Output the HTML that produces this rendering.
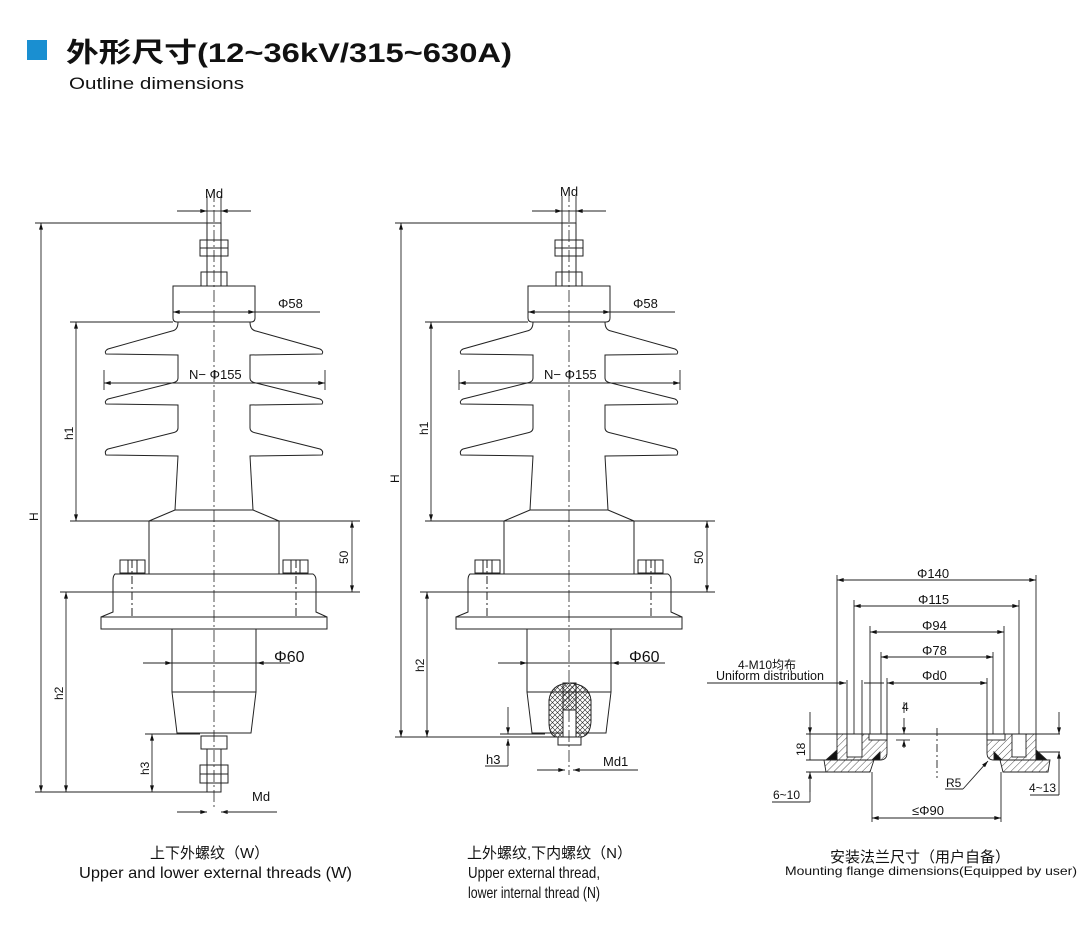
<!DOCTYPE html>
<html><head><meta charset="utf-8"><style>
body{margin:0;background:#fff;}
svg{display:block;font-family:"Liberation Sans","Noto Sans CJK SC",sans-serif;}
</style></head><body>
<svg width="1084" height="932" viewBox="0 0 1084 932" xmlns="http://www.w3.org/2000/svg">
<defs>
<marker id="a" viewBox="0 0 10 6" refX="10" refY="3" markerWidth="10" markerHeight="4" orient="auto-start-reverse" markerUnits="userSpaceOnUse"><path d="M0,0L10,3L0,6z" fill="#111"/></marker>
<pattern id="h" width="5" height="5" patternUnits="userSpaceOnUse" patternTransform="rotate(45)"><line x1="0" y1="0" x2="0" y2="5" stroke="#222" stroke-width="0.8"/></pattern>
<pattern id="x" width="5" height="5" patternUnits="userSpaceOnUse"><path d="M0,0L5,5M5,0L0,5" stroke="#222" stroke-width="0.6"/></pattern>
<g id="top" fill="none" stroke="#222" stroke-width="1">
<rect x="207" y="223" width="14" height="63"/>
<rect x="200" y="240" width="28" height="8"/><rect x="200" y="248" width="28" height="8"/>
<rect x="201" y="272" width="26" height="14"/>
<path d="M173,286H255V318Q255,322 251,322H177Q173,322 173,318Z"/>
<g id="side">
<path d="M178,322Q178,330 172,331L108,349Q104,351 106,354L178,355L178,378Q178,382 172,383L108,399Q104,401 106,404L178,405L178,428Q178,432 172,433L108,449Q104,451 106,455L178,456L175,510L149,521"/>
</g>
<use href="#side" transform="translate(428,0) scale(-1,1)"/>
<rect x="149" y="521" width="130" height="53"/>
<line x1="175" y1="510" x2="253" y2="510"/>
<rect x="120" y="560" width="25" height="13"/><line x1="128" y1="560" x2="128" y2="573"/><line x1="137" y1="560" x2="137" y2="573"/>
<rect x="283" y="560" width="25" height="13"/><line x1="291" y1="560" x2="291" y2="573"/><line x1="300" y1="560" x2="300" y2="573"/>
<path d="M115,574H313Q316,576 316,580V612L327,617H101L113,612V580Q113,576 115,574Z"/>
<line x1="113" y1="592" x2="316" y2="592"/>
<rect x="101" y="617" width="226" height="12"/>
<line x1="132" y1="560" x2="132" y2="617" stroke-dasharray="8,3,2,3"/>
<line x1="296" y1="560" x2="296" y2="617" stroke-dasharray="8,3,2,3"/>
<path d="M172,629V692L177,733H251L256,692V629"/>
<line x1="172" y1="692" x2="256" y2="692"/>
</g>
</defs>

<rect x="27" y="40" width="20" height="20" fill="#1a8fd1"/>
<text x="66" y="62" font-size="27" font-weight="bold" fill="#111" textLength="446" lengthAdjust="spacingAndGlyphs">外形尺寸(12~36kV/315~630A)</text>
<text x="69" y="89" font-size="17" fill="#111" textLength="175" lengthAdjust="spacingAndGlyphs">Outline dimensions</text>

<use href="#top"/>
<g fill="none" stroke="#222" stroke-width="1">
<rect x="201" y="736" width="26" height="13"/><rect x="207" y="749" width="14" height="43"/>
<rect x="200" y="765" width="28" height="9"/><rect x="200" y="774" width="28" height="9"/>
<line x1="214" y1="190" x2="214" y2="810" stroke-dasharray="12,3,2,3" stroke-width="0.8"/>
</g>
<g stroke="#222" stroke-width="0.9" fill="none">
<line x1="35" y1="223" x2="207" y2="223"/><line x1="41" y1="223" x2="41" y2="792" marker-start="url(#a)" marker-end="url(#a)"/>
<line x1="35" y1="792" x2="221" y2="792"/>
<line x1="70" y1="322" x2="173" y2="322"/><line x1="76" y1="322" x2="76" y2="521" marker-start="url(#a)" marker-end="url(#a)"/>
<line x1="70" y1="521" x2="360" y2="521"/><line x1="60" y1="592" x2="360" y2="592"/>
<line x1="352" y1="521" x2="352" y2="592" marker-start="url(#a)" marker-end="url(#a)"/>
<line x1="66" y1="592" x2="66" y2="792" marker-start="url(#a)" marker-end="url(#a)"/>
<line x1="145" y1="734" x2="200" y2="734"/><line x1="152" y1="734" x2="152" y2="792" marker-start="url(#a)" marker-end="url(#a)"/>
<line x1="177" y1="211" x2="207" y2="211" marker-end="url(#a)"/><line x1="251" y1="211" x2="221" y2="211" marker-end="url(#a)"/><line x1="207" y1="211" x2="221" y2="211"/>
<line x1="207" y1="196" x2="207" y2="223"/><line x1="221" y1="196" x2="221" y2="223"/>
<line x1="177" y1="812" x2="207" y2="812" marker-end="url(#a)"/><line x1="251" y1="812" x2="221" y2="812" marker-end="url(#a)"/><line x1="221" y1="812" x2="277" y2="812"/>
<line x1="173" y1="312" x2="255" y2="312" marker-start="url(#a)" marker-end="url(#a)"/><line x1="255" y1="312" x2="320" y2="312"/>
<line x1="104" y1="383" x2="325" y2="383" marker-start="url(#a)" marker-end="url(#a)"/>
<line x1="104" y1="370" x2="104" y2="390"/><line x1="325" y1="370" x2="325" y2="390"/>
<line x1="143" y1="663" x2="172" y2="663" marker-end="url(#a)"/><line x1="290" y1="663" x2="257" y2="663" marker-end="url(#a)"/><line x1="172" y1="663" x2="257" y2="663"/>
</g>
<g font-size="13" fill="#111">
<text x="205" y="198">Md</text>
<text x="278" y="308">Φ58</text>
<text x="189" y="379">N− Φ155</text>
<text x="274" y="662" font-size="16">Φ60</text>
<text x="252" y="801">Md</text>
<text transform="translate(38,521) rotate(-90)" font-size="12">H</text>
<text transform="translate(73,440) rotate(-90)" font-size="12">h1</text>
<text transform="translate(348,564) rotate(-90)" font-size="12">50</text>
<text transform="translate(63,700) rotate(-90)" font-size="12">h2</text>
<text transform="translate(149,775) rotate(-90)" font-size="12">h3</text>
</g>

<use href="#top" transform="translate(355,0)"/>
<g fill="none" stroke="#222" stroke-width="1">
<path d="M549,722V700Q551,684 569,683Q589,684 591,700V722Q590,735 582,737H556Q549,735 549,722Z" fill="url(#x)"/>
<rect x="563" y="683" width="13" height="37" fill="url(#h)"/>
<rect x="563" y="710" width="13" height="32" fill="#fff"/>
<rect x="558" y="737" width="23" height="8" fill="#fff"/>
<line x1="569" y1="190" x2="569" y2="775" stroke-dasharray="12,3,2,3" stroke-width="0.8"/>
</g>
<g stroke="#222" stroke-width="0.9" fill="none">
<line x1="395" y1="223" x2="562" y2="223"/><line x1="401" y1="223" x2="401" y2="737" marker-start="url(#a)" marker-end="url(#a)"/>
<line x1="395" y1="737" x2="560" y2="737"/>
<line x1="425" y1="322" x2="528" y2="322"/><line x1="431" y1="322" x2="431" y2="521" marker-start="url(#a)" marker-end="url(#a)"/>
<line x1="425" y1="521" x2="715" y2="521"/><line x1="420" y1="592" x2="715" y2="592"/>
<line x1="707" y1="521" x2="707" y2="592" marker-start="url(#a)" marker-end="url(#a)"/>
<line x1="427" y1="592" x2="427" y2="737" marker-start="url(#a)" marker-end="url(#a)"/>
<line x1="508" y1="707" x2="508" y2="734" marker-end="url(#a)"/><line x1="508" y1="766" x2="508" y2="739" marker-end="url(#a)"/>
<line x1="500" y1="734" x2="545" y2="734"/><line x1="485" y1="766" x2="508" y2="766"/>
<line x1="532" y1="211" x2="562" y2="211" marker-end="url(#a)"/><line x1="606" y1="211" x2="576" y2="211" marker-end="url(#a)"/><line x1="562" y1="211" x2="576" y2="211"/>
<line x1="562" y1="196" x2="562" y2="223"/><line x1="576" y1="196" x2="576" y2="223"/>
<line x1="537" y1="770" x2="565" y2="770" marker-end="url(#a)"/><line x1="593" y1="770" x2="573" y2="770" marker-end="url(#a)"/><line x1="573" y1="770" x2="638" y2="770"/>
<line x1="528" y1="312" x2="610" y2="312" marker-start="url(#a)" marker-end="url(#a)"/><line x1="610" y1="312" x2="675" y2="312"/>
<line x1="459" y1="383" x2="680" y2="383" marker-start="url(#a)" marker-end="url(#a)"/>
<line x1="459" y1="370" x2="459" y2="390"/><line x1="680" y1="370" x2="680" y2="390"/>
<line x1="498" y1="663" x2="527" y2="663" marker-end="url(#a)"/><line x1="665" y1="663" x2="612" y2="663" marker-end="url(#a)"/><line x1="527" y1="663" x2="612" y2="663"/>
</g>
<g font-size="13" fill="#111">
<text x="560" y="196">Md</text>
<text x="633" y="308">Φ58</text>
<text x="544" y="379">N− Φ155</text>
<text x="629" y="662" font-size="16">Φ60</text>
<text x="603" y="766">Md1</text>
<text x="486" y="764">h3</text>
<text transform="translate(399,483) rotate(-90)" font-size="12">H</text>
<text transform="translate(428,435) rotate(-90)" font-size="12">h1</text>
<text transform="translate(703,564) rotate(-90)" font-size="12">50</text>
<text transform="translate(424,672) rotate(-90)" font-size="12">h2</text>
</g>

<g stroke="#222" stroke-width="0.9" fill="none">
<line x1="837" y1="575" x2="837" y2="735"/><line x1="1036" y1="575" x2="1036" y2="735"/>
<line x1="837" y1="580" x2="1036" y2="580" marker-start="url(#a)" marker-end="url(#a)"/>
<line x1="854" y1="600" x2="854" y2="735"/><line x1="1019" y1="600" x2="1019" y2="735"/>
<line x1="854" y1="606" x2="1019" y2="606" marker-start="url(#a)" marker-end="url(#a)"/>
<line x1="870" y1="626" x2="870" y2="735"/><line x1="1004" y1="626" x2="1004" y2="735"/>
<line x1="870" y1="632" x2="1004" y2="632" marker-start="url(#a)" marker-end="url(#a)"/>
<line x1="881" y1="652" x2="881" y2="735"/><line x1="993" y1="652" x2="993" y2="735"/>
<line x1="881" y1="657" x2="993" y2="657" marker-start="url(#a)" marker-end="url(#a)"/>
<line x1="887" y1="678" x2="887" y2="735"/><line x1="987" y1="678" x2="987" y2="735"/>
<line x1="887" y1="683" x2="987" y2="683" marker-start="url(#a)" marker-end="url(#a)"/>
<line x1="847" y1="680" x2="847" y2="735"/><line x1="862" y1="680" x2="862" y2="735"/>
<line x1="707" y1="683" x2="846" y2="683" marker-end="url(#a)"/><line x1="864" y1="683" x2="884" y2="683"/>
<path d="M837,734H887V753Q887,760 880,760H837Z" fill="url(#h)"/>
<path d="M987,734H1036V760H994Q987,760 987,753Z" fill="url(#h)"/>
<rect x="869" y="734" width="18" height="6" fill="#fff"/>
<rect x="987" y="734" width="18" height="6" fill="#fff"/>
<rect x="847" y="734" width="15" height="23" fill="#fff"/>
<rect x="1012" y="734" width="14" height="23" fill="#fff"/>
<path d="M824,760H874L870,772H826Z" fill="url(#h)"/>
<path d="M1000,760H1050L1048,772H1003Z" fill="url(#h)"/>
<path d="M826,760L837,750V760Z M1036,750L1047,760H1036Z M872,760L880,752V760Z M994,752L1002,760H994Z" fill="#111"/>
<line x1="937" y1="728" x2="937" y2="778" stroke-dasharray="8,3,2,3"/>
<line x1="806" y1="734" x2="1060" y2="734"/><line x1="1038" y1="752" x2="1060" y2="752"/>
<line x1="806" y1="760" x2="826" y2="760"/><line x1="806" y1="772" x2="826" y2="772"/>
<line x1="810" y1="712" x2="810" y2="734" marker-end="url(#a)"/><line x1="810" y1="734" x2="810" y2="760"/>
<line x1="810" y1="792" x2="810" y2="772" marker-end="url(#a)"/>
<line x1="772" y1="802" x2="810" y2="802"/><line x1="810" y1="772" x2="810" y2="802"/>
<line x1="1059" y1="712" x2="1059" y2="734" marker-end="url(#a)"/><line x1="1059" y1="772" x2="1059" y2="752" marker-end="url(#a)"/>
<line x1="1059" y1="772" x2="1059" y2="795"/><line x1="1030" y1="795" x2="1059" y2="795"/>
<line x1="904" y1="718" x2="904" y2="734" marker-end="url(#a)"/><line x1="904" y1="748" x2="904" y2="740" marker-end="url(#a)"/>
<line x1="896" y1="740" x2="910" y2="740"/><line x1="904" y1="713" x2="904" y2="702"/>
<line x1="872" y1="772" x2="872" y2="822"/><line x1="1001" y1="772" x2="1001" y2="822"/>
<line x1="872" y1="818" x2="1001" y2="818" marker-start="url(#a)" marker-end="url(#a)"/>
<line x1="963" y1="789" x2="988" y2="761" marker-end="url(#a)"/><line x1="945" y1="789" x2="963" y2="789"/>
</g>
<g font-size="13" fill="#111">
<text x="917" y="578">Φ140</text>
<text x="918" y="604">Φ115</text>
<text x="922" y="630">Φ94</text>
<text x="922" y="655">Φ78</text>
<text x="922" y="680">Φd0</text>
<text x="738" y="669" font-size="12">4-M10均布</text>
<text x="716" y="680" font-size="13" textLength="108" lengthAdjust="spacingAndGlyphs">Uniform distribution</text>
<text x="902" y="711" font-size="12">4</text>
<text transform="translate(805,756) rotate(-90)" font-size="12">18</text>
<text x="773" y="799" font-size="12">6~10</text>
<text x="1029" y="792" font-size="12">4~13</text>
<text x="946" y="787" font-size="12">R5</text>
<text x="912" y="815">≤Φ90</text>
</g>

<g fill="#111" font-size="16">
<text x="150" y="858" font-size="15">上下外螺纹（W）</text>
<text x="79" y="878" textLength="273" lengthAdjust="spacingAndGlyphs">Upper and lower external threads (W)</text>
<text x="467" y="858" font-size="15">上外螺纹,下内螺纹（N）</text>
<text x="468" y="878" textLength="132" lengthAdjust="spacingAndGlyphs">Upper external thread,</text>
<text x="468" y="898" textLength="132" lengthAdjust="spacingAndGlyphs">lower internal thread (N)</text>
<text x="830" y="862" font-size="15">安装法兰尺寸（用户自备）</text>
<text x="785" y="875" font-size="12" textLength="292" lengthAdjust="spacingAndGlyphs">Mounting flange dimensions(Equipped by user)</text>
</g>
</svg>
</body></html>
